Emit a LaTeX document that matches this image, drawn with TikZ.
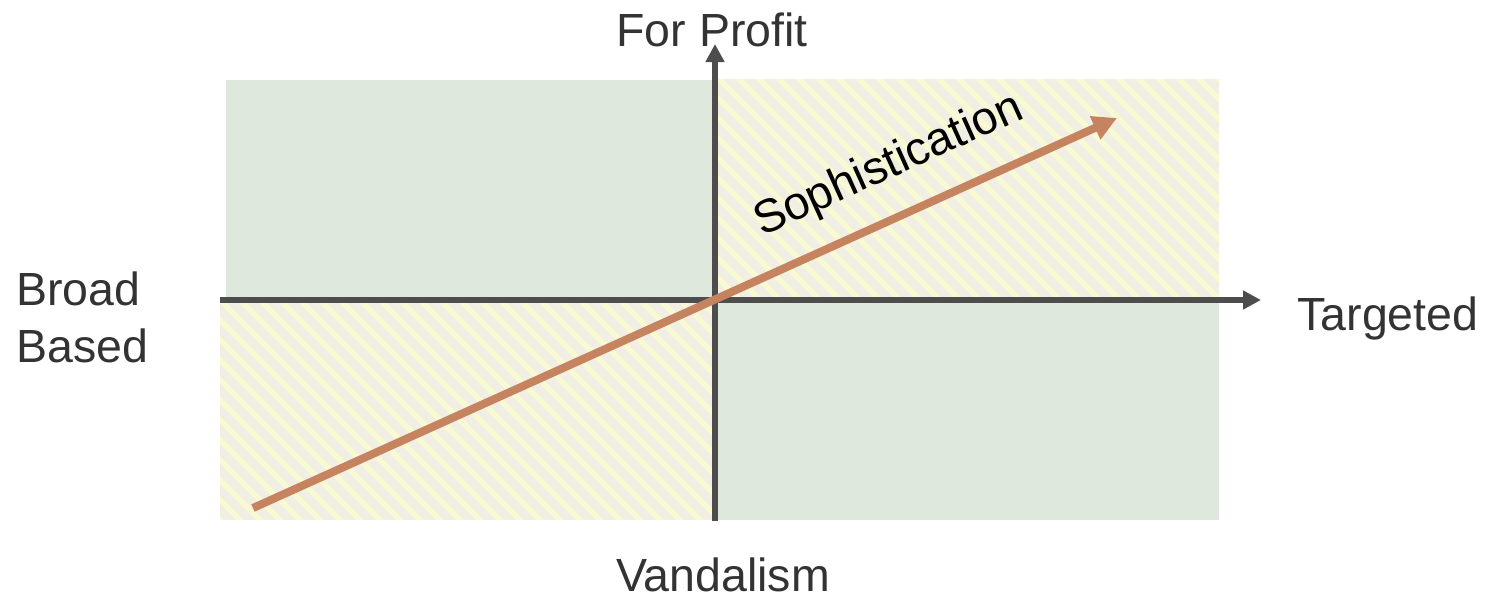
\documentclass[tikz,border=0pt]{standalone}
\usepackage{fontspec}
\setmainfont{Liberation Sans}
\usetikzlibrary{arrows.meta}
\definecolor{quadgreen}{HTML}{DFE8DD}
\definecolor{hatchbg}{HTML}{F1EFE3}
\definecolor{hatchline}{HTML}{FAFAD2}
\definecolor{axisgray}{HTML}{4D4D4D}
\definecolor{soph}{HTML}{C5835F}
\definecolor{textgray}{HTML}{333333}
\begin{document}
\begin{tikzpicture}[x=0.5pt,y=-0.5pt,
  lbl/.style={font=\fontsize{23.25}{28.5}\selectfont, text=textgray, inner sep=0pt},
  axisline/.style={axisgray, line width=3pt, -{Triangle[length=9pt,width=9pt]}},
  sophline/.style={soph, line width=4pt, -{Triangle[length=12pt,width=12pt]}}]
\useasboundingbox (0,0) rectangle (1488,594);
% quadrants
\fill[quadgreen] (226,80) rectangle (713,300);
\fill[quadgreen] (717,300) rectangle (1219,520);
\begin{scope}
  \clip (717,79) rectangle (1219,300) (220,300) rectangle (713,520);
  \fill[hatchbg] (220,79) rectangle (1219,520);
  \foreach \a in {-340,-320,...,1180}
    \draw[hatchline, line width=2.5pt] (\a,0) -- ++(600,600);
\end{scope}
% axes
\coordinate (xs) at (220,300);
\coordinate (xe) at (1261,300);
\coordinate (ys) at (715,521);
\coordinate (ye) at (715,44);
\draw[axisline] (xs) -- (xe);
\draw[axisline] (ys) -- (ye);
% sophistication arrow
\coordinate (ss) at (253,508);
\coordinate (se) at (1117,118);
\draw[sophline] (ss) -- (se);
% labels
\node[lbl] (fp) at (712,30) {For Profit};
\node[lbl] (vd) at (723,575) {Vandalism};
\node[lbl, anchor=west] (tg) at (1297,318) {Targeted};
\node[lbl, anchor=west, align=left] (bb) at (16,317) {Broad\\Based};
\node[lbl, text=black, rotate=24.3] (sp) at (889,166) {Sophistication};
\end{tikzpicture}
\end{document}
